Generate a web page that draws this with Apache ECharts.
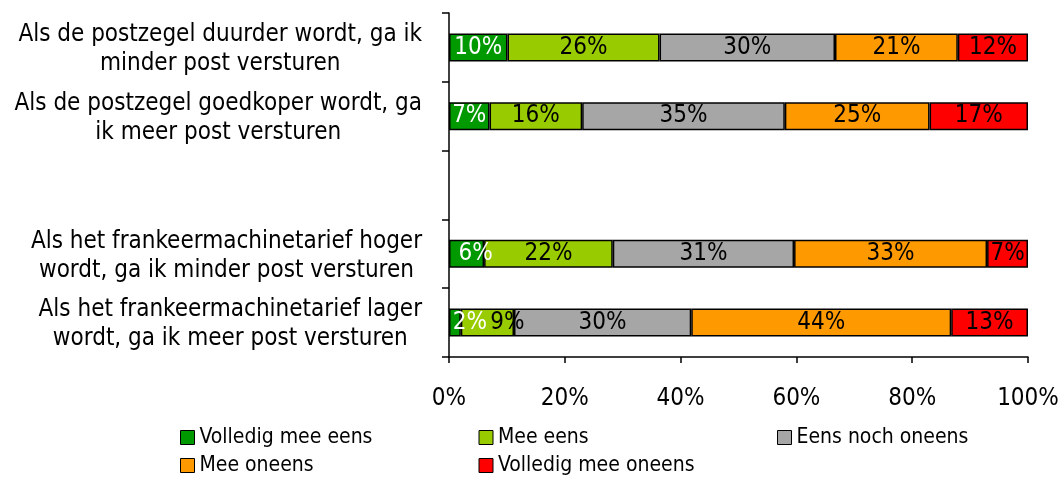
<!DOCTYPE html>
<html>
<head>
<meta charset="utf-8">
<script src="https://cdn.jsdelivr.net/npm/echarts@6/dist/echarts.min.js"></script>
<style>
html, body { margin: 0; padding: 0; background: #fff; }
#chart { width: 1060px; height: 477px; }
</style>
</head>
<body>
<div id="chart"></div>
<script>
var categories = [
	"Als de postzegel duurder wordt, ga ik\nminder post versturen",
	"Als de postzegel goedkoper wordt, ga\nik meer post versturen",
	"",
	"Als het frankeermachinetarief hoger\nwordt, ga ik minder post versturen",
	"Als het frankeermachinetarief lager\nwordt, ga ik meer post versturen"
];
var seriesNames = ["Volledig mee eens", "Mee eens", "Eens noch oneens", "Mee oneens", "Volledig mee oneens"];
var colors = ["#009900", "#99cc00", "#a6a6a6", "#ff9900", "#ff0000"];
var labelColors = ["#fff", "#000", "#000", "#000", "#000"];

// percentages per answer, one value per category (null = empty row)
var volledigEens = [10, 7, null, 6, 2];
var meeEens = [26, 16, null, 22, 9];
var neutraal = [30, 35, null, 31, 30];
var meeOneens = [21, 25, null, 33, 44];
var volledigOneens = [12, 17, null, 7, 13];

var xTicks = ["0%", "20%", "40%", "60%", "80%", "100%"];

var rows = [volledigEens, meeEens, neutraal, meeOneens, volledigOneens];
var font = "'DejaVu Sans Condensed', 'DejaVu Sans', sans-serif";

// 100% gestapeld: elke rij schalen naar totaal 100
var totals = categories.map(function(c, i) {
	var t = 0;
	rows.forEach(function(r) { if (r[i] != null) t += r[i]; });
	return t;
});

// labels die in het origineel verschoven staan
var labelShift = { "0-3": 9, "0-4": 15, "1-4": 20 };

var series = rows.map(function(r, s) {
	return {
		name: seriesNames[s],
		type: "bar",
		stack: "totaal",
		barWidth: 28,
		itemStyle: { color: colors[s], borderColor: "#000", borderWidth: 1.5 },
		label: {
			show: true,
			position: "inside",
			color: labelColors[s],
			fontFamily: font,
			fontSize: 24,
			formatter: function(p) { return r[p.dataIndex] + "%"; }
		},
		data: r.map(function(v, i) {
			if (v == null) return null;
			var d = { value: v / totals[i] * 100 };
			var k = s + "-" + i;
			if (labelShift[k]) d.label = { offset: [labelShift[k], 0] };
			return d;
		})
	};
});

var chart = echarts.init(document.getElementById("chart"));
chart.setOption({
	animation: false,
	textStyle: { fontFamily: font },
	grid: { left: 449, right: 32, top: 13, bottom: 120, containLabel: false, outerBoundsMode: "none" },
	xAxis: {
		type: "value",
		min: 0,
		max: 100,
		interval: 20,
		splitLine: { show: false },
		axisLine: { show: true, lineStyle: { color: "#000", width: 1.5 } },
		axisTick: { show: true, length: 6, lineStyle: { color: "#000", width: 1.5 } },
		axisLabel: {
			margin: 30,
			fontFamily: font,
			fontSize: 24,
			color: "#000",
			formatter: function(v) { return xTicks[v / 20]; }
		}
	},
	yAxis: {
		type: "category",
		inverse: true,
		data: categories,
		axisLine: { show: true, lineStyle: { color: "#000", width: 1.5 } },
		axisTick: { show: true, length: 7, lineStyle: { color: "#000", width: 1.5 } },
		axisLabel: {
			margin: 27,
			align: "right",
			padding: [4, 0, 0, 0],
			fontFamily: font,
			fontSize: 24,
			color: "#000",
			formatter: function(v) {
				if (!v) return "";
				return v.split("\n").map(function(l) { return "{c|" + l + "}"; }).join("\n");
			},
			rich: { c: { align: "center", fontFamily: font, fontSize: 24, lineHeight: 29, color: "#000" } }
		}
	},
	legend: {
		data: seriesNames,
		left: 180,
		top: 427,
		width: 900,
		padding: 0,
		itemWidth: 14,
		itemHeight: 14,
		itemGap: 7,
		icon: "rect",
		itemStyle: { borderColor: "#000", borderWidth: 1 },
		textStyle: { fontFamily: font, fontSize: 21, color: "#000", width: 272, lineHeight: 21 }
	},
	series: series
});
</script>
</body>
</html>
